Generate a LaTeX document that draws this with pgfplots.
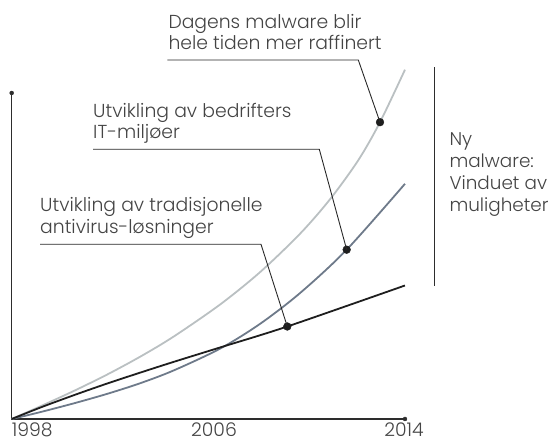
\documentclass[border=0pt]{standalone}
\usepackage{fontspec}
\IfFontExistsTF{Poppins Light}{\setmainfont{Poppins Light}}{%
 \IfFontExistsTF{Poppins-Light.ttf}{\setmainfont{Poppins-Light.ttf}}{%
  \IfFontExistsTF{Poppins-Light.otf}{\setmainfont{Poppins-Light.otf}}{\setmainfont{Poppins}}}}
\usepackage{pgfplots}
\pgfplotsset{compat=1.18}
\definecolor{lgray}{RGB}{186,192,194}
\definecolor{bgray}{RGB}{110,122,138}
\definecolor{blk}{RGB}{30,30,30}
\definecolor{axc}{RGB}{45,45,45}
\definecolor{txtc}{RGB}{68,68,68}
\definecolor{leadc}{RGB}{40,40,40}
\begin{document}
\begin{tikzpicture}
\useasboundingbox (0,0) rectangle (550pt,443pt);
\begin{axis}[scale only axis, width=550pt, height=443pt,
  at={(0,0)}, anchor=south west,
  xmin=1997.524, xmax=2019.900, ymin=-24, ymax=419,
  axis lines=none, clip=false]
% axes
\addplot[axc, line width=1.2pt] coordinates {(1998,326) (1998,0) (2014,0)};
\addplot[only marks, mark=*, mark size=2pt, axc] coordinates {(1998,326) (2014,0)};
% curves
\addplot[lgray, line width=1.8pt, smooth, tension=0.5] coordinates {
 (1998,0) (1999.151,12.5) (2000.506,27.8) (2001.865,44.2) (2003.220,62.2) (2004.575,82.2)
 (2006.474,114.4) (2008.102,146.8) (2009.729,185.2) (2010.950,219.7)
 (2012.101,258.8) (2012.984,296.8) (2014,349.3)};
\addplot[bgray, line width=1.8pt, smooth, tension=0.5] coordinates {
 (1998,0) (1999.151,6.8) (2000.506,15.5) (2001.865,25.0) (2003.220,35.7) (2004.575,48.4)
 (2006.474,70.3) (2008.102,95.1) (2009.729,125.9) (2011.628,169.3) (2014,235.2)};
\addplot[blk, line width=1.8pt, smooth, tension=0.5] coordinates {
 (1998,0) (1999.151,11.3) (2000.506,23.6) (2001.865,35.3) (2003.220,46.3) (2004.575,57.0)
 (2006.474,71.5) (2009.212,92.5) (2014,133.5)};
% annotation dots
\addplot[only marks, mark=*, mark size=3.9pt, blk] coordinates {
 (2012.984,296.8) (2011.628,169.3) (2009.212,92.5)};
\coordinate (d1) at (axis cs:2012.984,296.8);
\coordinate (d2) at (axis cs:2011.628,169.3);
\coordinate (d3) at (axis cs:2009.212,92.5);
\end{axis}
\tikzset{lbl/.style={anchor=base west, inner sep=0pt, text=txtc, font=\fontsize{18.8}{22}\selectfont},
  rl/.style={anchor=base west, inner sep=0pt, text=txtc, font=\fontsize{18.4}{22}\selectfont},
  tck/.style={inner sep=0pt, text=txtc, font=\fontsize{18.8}{22}\selectfont}}
% annotation 1
\node[lbl] at (168.3pt,414.7pt) {Dagens malware blir};
\node[lbl] at (168.3pt,393pt) {hele tiden mer raffinert};
\draw[leadc, line width=0.9pt] (167.3pt,383pt) -- (358.3pt,383pt) -- (d1);
% annotation 2
\node[lbl] at (93pt,325.7pt) {Utvikling av bedrifters};
\node[lbl] at (93pt,304pt) {IT-miljøer};
\draw[leadc, line width=0.9pt] (93pt,293.7pt) -- (319.3pt,293.7pt) -- (d2);
% annotation 3
\node[lbl] at (40pt,231.4pt) {Utvikling av tradisjonelle};
\node[lbl] at (40pt,209.7pt) {antivirus-løsninger};
\draw[leadc, line width=0.9pt] (40pt,198.7pt) -- (261pt,198.7pt) -- (d3);
% right bracket
\draw[axc, line width=1.2pt] (434.3pt,375.7pt) -- (434.3pt,157pt);
\node[rl] at (449.3pt,297pt) {Ny};
\node[rl] at (449.3pt,275.3pt) {malware:};
\node[rl] at (449.3pt,253.5pt) {Vinduet av};
\node[rl] at (449.3pt,231.7pt) {muligheter};
% x labels
\node[tck, anchor=base west] at (11.7pt,6.5pt) {1998};
\node[tck, anchor=base] at (214pt,6.5pt) {2006};
\node[tck, anchor=base] at (404pt,6.5pt) {2014};
\end{tikzpicture}
\end{document}
